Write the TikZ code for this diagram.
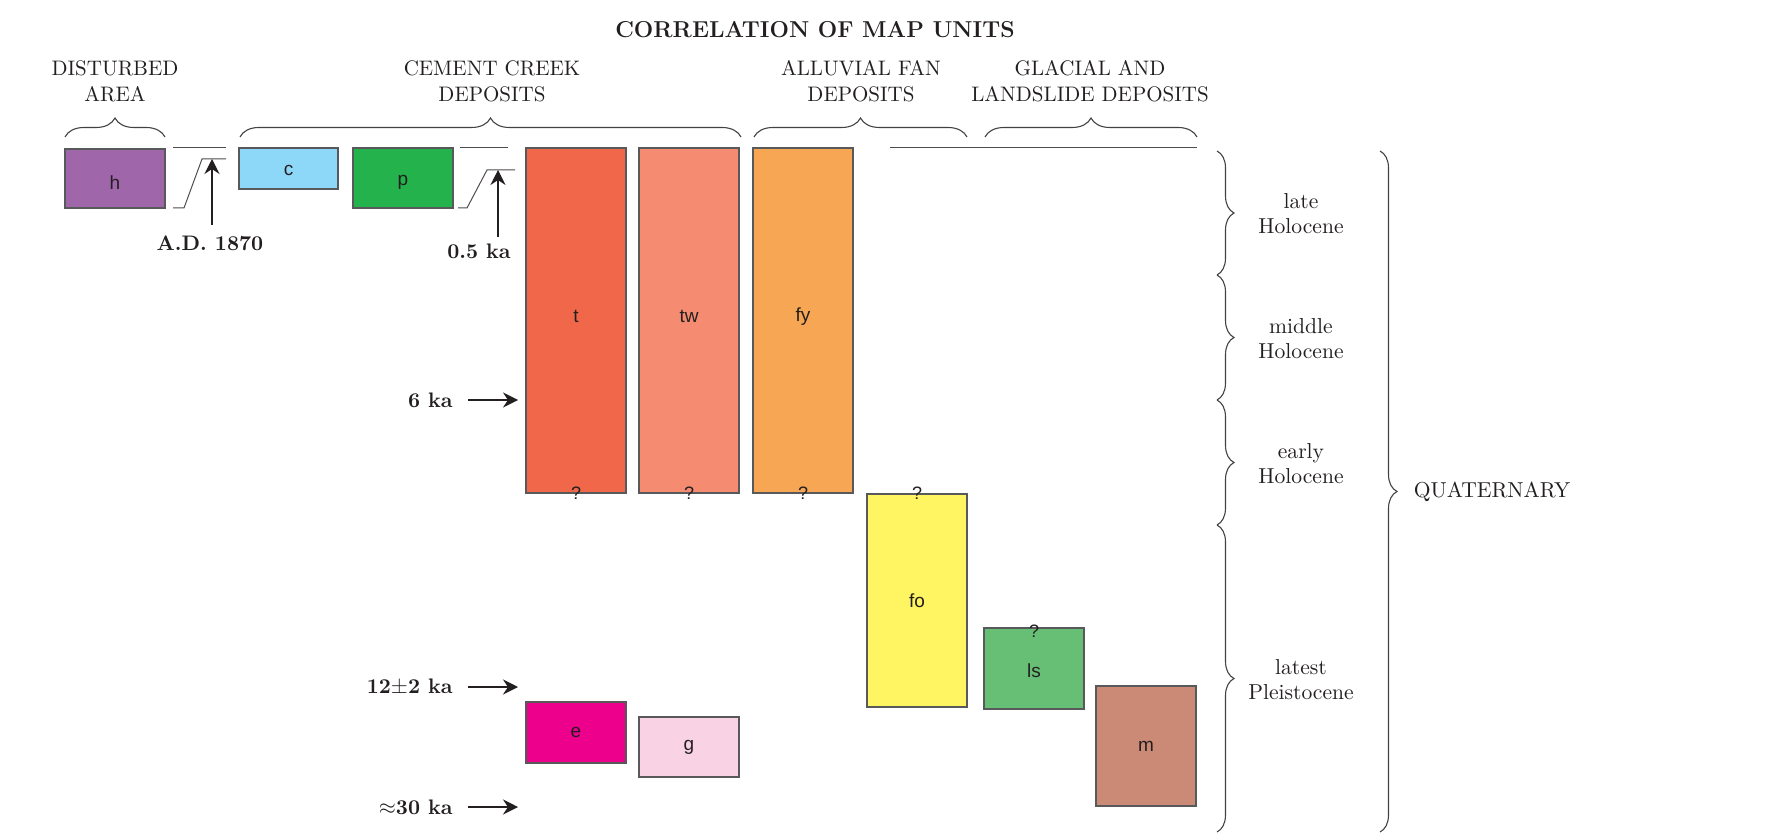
\documentclass[tikz,border=0pt]{standalone}
\usepackage{fontspec}
\newfontfamily\sansf{Liberation Sans}
\usetikzlibrary{decorations.pathreplacing,arrows.meta,fit}
\definecolor{txt}{HTML}{231F20}
\definecolor{edge}{HTML}{58595B}
\definecolor{ch}{HTML}{A066AA}
\definecolor{cc}{HTML}{8DD8F8}
\definecolor{cp}{HTML}{23B24B}
\definecolor{ct}{HTML}{F0674A}
\definecolor{ctw}{HTML}{F58C71}
\definecolor{cfy}{HTML}{F7A754}
\definecolor{cfo}{HTML}{FFF462}
\definecolor{cls}{HTML}{67BF75}
\definecolor{cm}{HTML}{CB8A76}
\definecolor{ce}{HTML}{EC008C}
\definecolor{cg}{HTML}{F9D3E4}
\begin{document}
\begin{tikzpicture}[x=0.5pt,y=-0.5pt,
  ubox/.style={draw=edge, line width=0.7pt, inner sep=0pt},
  ulab/.style={text=txt, inner sep=0pt, font=\sansf\fontsize{9.5}{11}\selectfont},
  hdr/.style={align=center, text=txt, font=\fontsize{10.5}{13}\selectfont},
  epo/.style={align=center, text=txt, font=\fontsize{10.8}{12.5}\selectfont},
  age/.style={anchor=east, text=txt, inner sep=0pt, font=\bfseries\fontsize{10.5}{12}\selectfont},
  qm/.style={text=txt, inner sep=0pt, font=\sansf\fontsize{9}{10}\selectfont},
  brc/.style={draw=txt!85, line width=0.55pt, decorate, decoration={brace, amplitude=9.5pt}},
  vbrc/.style={draw=txt!85, line width=0.55pt, decorate, decoration={brace, amplitude=8.5pt}},
  ln/.style={draw=txt!80, line width=0.5pt},
  arr/.style={draw=txt, line width=0.6pt, -{Stealth[length=7.5pt, width=7.5pt, inset=2.5pt]}}
]
\useasboundingbox (0,0) rectangle (1781,834);

% title
\node[text=txt, font=\bfseries\fontsize{11.5}{13}\selectfont] (title) at (815,30) {CORRELATION OF MAP UNITS};

% headers
\node[hdr] (hd) at (115,81) {DISTURBED\\AREA};
\node[hdr] (hc) at (492,81) {CEMENT CREEK\\DEPOSITS};
\node[hdr] (ha) at (861,81) {ALLUVIAL FAN\\DEPOSITS};
\node[hdr] (hg) at (1090,81) {GLACIAL AND\\LANDSLIDE DEPOSITS};

% header braces
\draw[brc] (65,137) -- (165,137);
\draw[brc] (240,137) -- (741,137);
\draw[brc] (754,137) -- (967,137);
\draw[brc] (985,137) -- (1197,137);

% unit boxes
\node[ubox, fill=ch, fit={(65,149) (165,208)}] (h) {};
\node[ubox, fill=cc, fit={(239,148) (338,189)}] (c) {};
\node[ubox, fill=cp, fit={(353,148) (453,208)}] (p) {};
\node[ubox, fill=ct, fit={(526,148) (626,493)}] (t) {};
\node[ubox, fill=ctw, fit={(639,148) (739,493)}] (tw) {};
\node[ubox, fill=cfy, fit={(753,148) (853,493)}] (fy) {};
\node[ubox, fill=cfo, fit={(867,494) (967,707)}] (fo) {};
\node[ubox, fill=cls, fit={(984,628) (1084,709)}] (ls) {};
\node[ubox, fill=cm, fit={(1096,686) (1196,806)}] (m) {};
\node[ubox, fill=ce, fit={(526,702) (626,763)}] (e) {};
\node[ubox, fill=cg, fit={(639,717) (739,777)}] (g) {};

\node[ulab] (th) at ([yshift=-2pt]h.center) {h};
\node[ulab] (tc) at ([yshift=-1pt]c.center) {c};
\node[ulab] (tp) at ([yshift=-2pt]p.center) {p};
\node[ulab] (tt) at ([yshift=2pt]t.center) {t};
\node[ulab] (ttw) at ([yshift=2pt]tw.center) {tw};
\node[ulab] (tfy) at ([yshift=2pt]fy.center) {fy};
\node[ulab] (tfo) at (fo.center) {fo};
\node[ulab] (tls) at ([yshift=-1pt]ls.center) {ls};
\node[ulab] (tm) at (m.center) {m};
\node[ulab] (te) at (e.center) {e};
\node[ulab] (tg) at (g.center) {g};

% question marks
\node[qm] (q1) at (t.south) {?};
\node[qm] (q2) at (tw.south) {?};
\node[qm] (q3) at (fy.south) {?};
\node[qm] (q4) at (fo.north) {?};
\node[qm] (q5) at ([yshift=-2pt]ls.north) {?};

% long line over glacial
\coordinate (gl1) at (890,148);
\coordinate (gl2) at (1197,148);
\draw[ln] (gl1) -- (gl2);

% A.D. 1870 unconformity
\coordinate (u1a) at (173,148);
\coordinate (u1b) at (226,148);
\draw[ln] (u1a) -- (u1b);
\coordinate (s1a) at (173,208);
\coordinate (s1b) at (184,208);
\coordinate (s1c) at (202,159);
\coordinate (s1d) at (226,159);
\draw[ln] (s1a) -- (s1b) -- (s1c) -- (s1d);
\node[age, anchor=center] (lad) at (210,243) {A.D. 1870};
\coordinate (a1s) at (212,225);
\coordinate (a1e) at (212,159);
\draw[arr] (a1s) -- (a1e);

% 0.5 ka unconformity
\coordinate (u2a) at (460,148);
\coordinate (u2b) at (508,148);
\draw[ln] (u2a) -- (u2b);
\coordinate (s2a) at (458,208);
\coordinate (s2b) at (467,208);
\coordinate (s2c) at (487,170);
\coordinate (s2d) at (515,170);
\draw[ln] (s2a) -- (s2b) -- (s2c) -- (s2d);
\node[age, anchor=center] (l05) at (479,251) {0.5 ka};
\coordinate (a2s) at (498,237);
\coordinate (a2e) at (498,170);
\draw[arr] (a2s) -- (a2e);

% age arrows
\node[age] (l6) at (453,400) {6 ka};
\coordinate (a6s) at (468,400);
\coordinate (a6e) at (518,400);
\draw[arr] (a6s) -- (a6e);
\node[age] (l12) at (453,687) {12$\pm$2 ka};
\coordinate (a12s) at (468,687);
\coordinate (a12e) at (518,687);
\draw[arr] (a12s) -- (a12e);
\node[age] (l30) at (453,807) {$\approx$30 ka};
\coordinate (a30s) at (468,807);
\coordinate (a30e) at (518,807);
\draw[arr] (a30s) -- (a30e);

% epoch braces
\draw[vbrc] (1217,151) -- (1217,275);
\draw[vbrc] (1217,275) -- (1217,400);
\draw[vbrc] (1217,400) -- (1217,525);
\draw[vbrc] (1217,525) -- (1217,832);
\node[epo] (lh) at (1301,214) {late\\Holocene};
\node[epo] (mh) at (1301,339) {middle\\Holocene};
\node[epo] (eh) at (1301,464) {early\\Holocene};
\node[epo] (lp) at (1301,680) {latest\\Pleistocene};

% quaternary brace
\draw[vbrc] (1380,151) -- (1380,832);
\node[text=txt, font=\fontsize{10.8}{12}\selectfont] (q) at (1492,492) {QUATERNARY};
\end{tikzpicture}
\end{document}
